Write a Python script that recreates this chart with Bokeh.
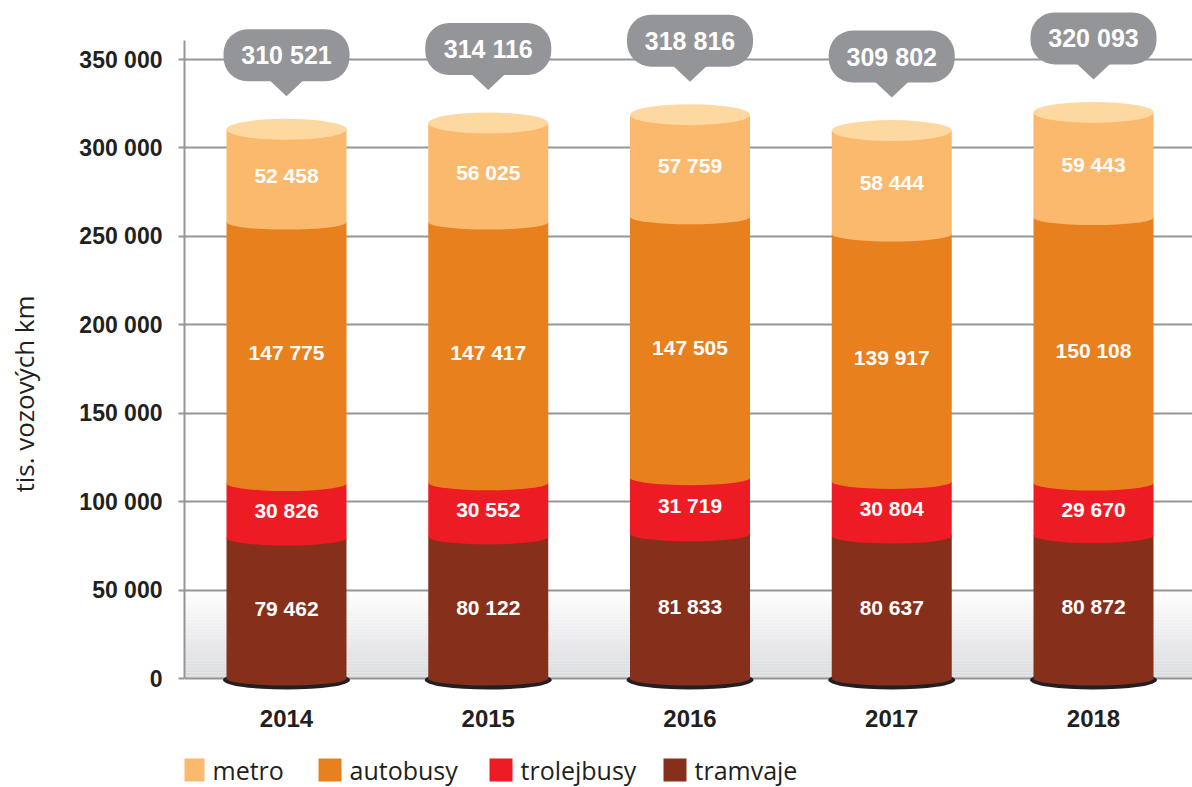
from bokeh.plotting import figure
from bokeh.models import Range1d, FixedTicker, ColumnDataSource
from bokeh.core.properties import value
from bokeh.embed import file_html
from bokeh.resources import INLINE

# ---------------- data ----------------
years = ["2014", "2015", "2016", "2017", "2018"]
tramvaje = [79462, 80122, 81833, 80637, 80872]
trolejbusy = [30826, 30552, 31719, 30804, 29670]
autobusy = [147775, 147417, 147505, 139917, 150108]
metro = [52458, 56025, 57759, 58444, 59443]
totals = [310521, 314116, 318816, 309802, 320093]
series_names = ["metro", "autobusy", "trolejbusy", "tramvaje"]
y_ticks = [0, 50000, 100000, 150000, 200000, 250000, 300000, 350000]
y_tick_labels = ["0", "50 000", "100 000", "150 000", "200 000", "250 000", "300 000", "350 000"]
y_label = "tis. vozových km"

# ---------------- style ----------------
C_METRO, C_METRO_TOP = "#fbb96d", "#fdd9a1"
C_BUS, C_TROL, C_TRAM = "#e8801e", "#ed1c24", "#86301c"
GRAY = "#939598"
TXT = "#231f20"
COND = "Liberation Sans"
REG = "Open Sans"

def fmt(v):
    return f"{v:,}".replace(",", " ")

W, H = 1192, 787
LEFT = 184
FRAME_W = W - LEFT
FRAME_H = H
ZERO_PX = 678           # zero line from top of frame
U = 350000 / 619.0      # data units per pixel (y)
y_end = ZERO_PX * U
y_start = -(FRAME_H - ZERO_PX) * U
PXU = 201.75            # pixels per category (x)
x_start = 0.5 - 102 / PXU
x_end = x_start + FRAME_W / PXU
UX = 1.0 / PXU          # data units per pixel (x)

p = figure(width=W, height=H, output_backend="svg", toolbar_location=None,
           x_range=Range1d(x_start, x_end), y_range=Range1d(y_start, y_end),
           min_border_left=LEFT, min_border_right=0, min_border_top=0, min_border_bottom=0)
p.outline_line_color = None
p.background_fill_color = "white"
p.border_fill_color = "white"
p.xaxis.visible = False
p.xgrid.visible = False

yax = p.yaxis[0]
yax.ticker = FixedTicker(ticks=y_ticks)
yax.major_label_overrides = {t: l for t, l in zip(y_ticks, y_tick_labels)}
yax.bounds = (0, 361000)
yax.axis_line_color = GRAY
yax.axis_line_width = 2
yax.major_tick_line_color = GRAY
yax.major_tick_line_width = 2
yax.major_tick_out = 6
yax.major_tick_in = 0
yax.minor_tick_line_color = None
yax.major_label_text_font = COND
yax.major_label_text_font_style = "bold"
yax.major_label_text_font_size = "23px"
yax.major_label_text_color = TXT
yax.major_label_standoff = 16
yax.axis_label = y_label
yax.axis_label_text_font = REG
yax.axis_label_text_font_style = "normal"
yax.axis_label_text_font_size = "26px"
yax.axis_label_text_color = TXT
yax.axis_label_standoff = 34

p.ygrid.ticker = FixedTicker(ticks=y_ticks)
p.ygrid.grid_line_color = GRAY
p.ygrid.grid_line_width = 2

# background gradient (0 .. 50000), white -> light gray
n = 30
g_bottom, g_top, g_col = [], [], []
for i in range(n):
    f = i / n
    g_bottom.append(50000 * f)
    g_top.append(50000 * (f + 1.0 / n) + 50)
    c0 = (0xdb, 0xdc, 0xdf)
    c = tuple(int(round(c0[k] + (255 - c0[k]) * f)) for k in range(3))
    g_col.append("#%02x%02x%02x" % c)
p.quad(left=x_start, right=x_end, bottom=g_bottom, top=g_top, fill_color=g_col,
       line_color=None, level="image")

xs = [i + 0.5 for i in range(len(years))]
BW = 120 * UX

# stacked cylinder data
stack = [tramvaje, trolejbusy, autobusy, metro]
cols = [C_TRAM, C_TROL, C_BUS, C_METRO]
bottoms = [[0] * len(years)]
for s in stack[:-1]:
    bottoms.append([b + v for b, v in zip(bottoms[-1], s)])

# bottom rim
p.ellipse(x=xs, y=[-1.5 * U] * len(xs), width=127 * UX, height=19 * U,
          fill_color="#231f20", line_color=None)
p.ellipse(x=xs, y=[0] * len(xs), width=BW, height=14 * U,
          fill_color=C_TRAM, line_color=None)

for s, b, c in zip(stack, bottoms, cols):
    p.vbar(x=xs, bottom=b, top=[bb + v for bb, v in zip(b, s)], width=BW,
           fill_color=c, line_color=None)
for s, b, c in list(zip(stack, bottoms, cols))[1:]:
    p.ellipse(x=xs, y=b, width=BW, height=15 * U, fill_color=c, line_color=None)

tops = [b + v for b, v in zip(bottoms[-1], metro)]
p.ellipse(x=xs, y=tops, width=BW, height=21 * U, fill_color=C_METRO_TOP, line_color=None)

# segment labels
for s, b in zip(stack, bottoms):
    src = ColumnDataSource(dict(x=xs, y=[bb + v / 2 for bb, v in zip(b, s)],
                                t=[fmt(v) for v in s]))
    p.text(x="x", y="y", text="t", source=src, text_color="white",
           text_font=value(COND), text_font_style="bold", text_font_size="21px",
           text_align="center", text_baseline="middle")

# callout bubbles with totals
bub_y = [t + 74 * U for t in tops]
p.rect(x=xs, y=bub_y, width=126 * UX, height=52 * U, fill_color=GRAY,
       line_color=None, border_radius=24)
tri_x, tri_y = [], []
for x, t in zip(xs, tops):
    base = t + (74 - 26 + 1) * U
    tri_x.append([x - 17 * UX, x + 17 * UX, x])
    tri_y.append([base, base, t + 33 * U])
p.patches(xs=tri_x, ys=tri_y, fill_color=GRAY, line_color=None)
p.text(x=xs, y=bub_y, text=[fmt(v) for v in totals], text_color="white",
       text_font=value(COND), text_font_style="bold", text_font_size="25px",
       text_align="center", text_baseline="middle")

# year labels (category axis)
p.text(x=xs, y=[-40 * U] * len(xs), text=years, text_color=TXT,
       text_font=value(COND), text_font_style="bold", text_font_size="24px",
       text_align="center", text_baseline="middle")

# legend
leg_px = [-3, 134, 305, 479]   # left of squares, px from frame left
leg_cols = [C_METRO, C_BUS, C_TROL, C_TRAM]
leg_y = -(769.5 - 678) * U
p.rect(x=[x_start + (lp + 11.5) * UX for lp in leg_px], y=[leg_y] * 4, width=23 * UX,
       height=23 * U, fill_color=leg_cols, line_color=None)
p.text(x=[x_start + (lp + 31) * UX for lp in leg_px], y=[leg_y] * 4, text=series_names,
       text_color=TXT, text_font=value(REG), text_font_size="25px",
       text_align="left", text_baseline="middle")

open("out.html", "w").write(file_html(p, INLINE))
